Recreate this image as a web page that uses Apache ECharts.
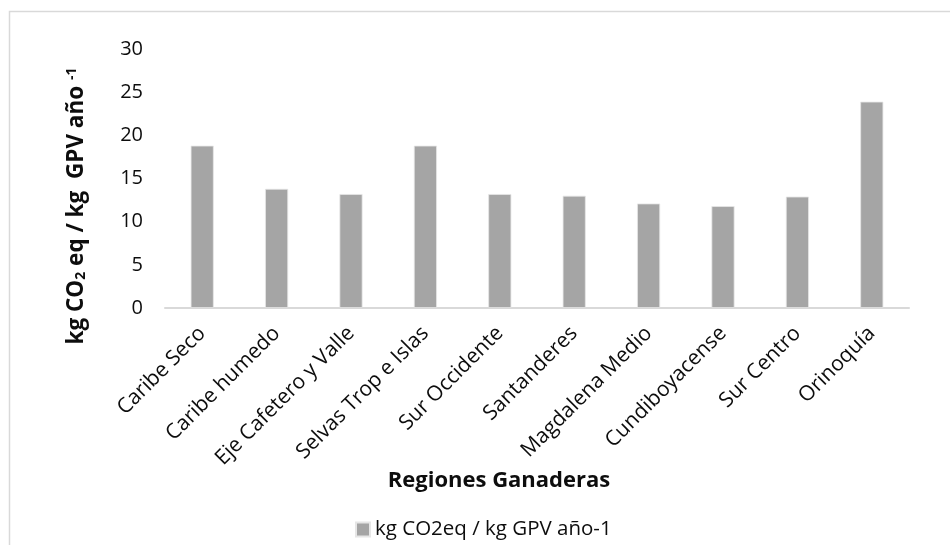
<!DOCTYPE html>
<html>
<head>
<meta charset="utf-8">
<script src="https://cdn.jsdelivr.net/npm/echarts@6/dist/echarts.min.js"></script>
<style>
  html, body { margin: 0; padding: 0; background: #fff; }
  #chart { width: 950px; height: 545px; }
</style>
</head>
<body>
<div id="chart"></div>
<script>
// Emission intensity per livestock region
const regions = [
  'Caribe Seco', 'Caribe humedo', 'Eje Cafetero y Valle', 'Selvas Trop e Islas',
  'Sur Occidente', 'Santanderes', 'Magdalena Medio', 'Cundiboyacense',
  'Sur Centro', 'Orinoquía'
];
const emissions = [18.8, 13.8, 13.2, 18.8, 13.2, 13.0, 12.1, 11.8, 12.9, 23.9];
const seriesName = 'kg CO2eq / kg GPV año-1';
const xTitle = 'Regiones Ganaderas';
const yMin = 0, yMax = 30, yStep = 5;

const FONT = "'Open Sans', 'Noto Sans', sans-serif";
const INK = '#0d0d0d';
const chart = echarts.init(document.getElementById('chart'), null, { renderer: 'canvas' });

chart.setOption({
  animation: false,
  backgroundColor: '#ffffff',
  grid: { left: 165, right: 41, top: 49, bottom: 237, containLabel: false },
  legend: {
    data: [seriesName],
    left: 350,
    top: 514,
    icon: 'rect',
    itemWidth: 14,
    itemHeight: 14,
    itemGap: 10,
    textStyle: { fontFamily: FONT, fontSize: 20.5, color: INK }
  },
  xAxis: {
    type: 'category',
    data: regions,
    axisLine: { show: true, lineStyle: { color: '#d9d9d9', width: 2 } },
    axisTick: { show: false },
    axisLabel: {
      rotate: 45,
      interval: 0,
      margin: 22,
      fontFamily: FONT,
      fontSize: 21,
      color: INK
    }
  },
  yAxis: {
    type: 'value',
    min: yMin,
    max: yMax,
    interval: yStep,
    axisLine: { show: false },
    axisTick: { show: false },
    splitLine: { show: false },
    axisLabel: { margin: 22, fontFamily: FONT, fontSize: 20, color: INK }
  },
  series: [{
    name: seriesName,
    type: 'bar',
    data: emissions,
    barWidth: '31%',
    itemStyle: { color: '#a5a5a5', borderColor: '#e6e6e6', borderWidth: 0.8 }
  }],
  graphic: [
    {
      type: 'rect',
      silent: true,
      shape: { x: 9.5, y: 11.5, width: 960, height: 560 },
      style: { fill: 'none', stroke: '#d9d9d9', lineWidth: 1.5 }
    },
    {
      type: 'text',
      silent: true,
      x: 499,
      y: 481,
      style: {
        text: xTitle,
        fontFamily: FONT,
        fontSize: 22,
        fontWeight: 'bold',
        fill: INK,
        align: 'center',
        verticalAlign: 'middle'
      }
    },
    {
      type: 'text',
      silent: true,
      x: 77,
      y: 206,
      rotation: Math.PI / 2,
      style: {
        text: 'kg CO{sub|2} eq / kg  GPV año {sup|-1}',
        fontFamily: FONT,
        fontSize: 22.5,
        fontWeight: 'bold',
        fill: INK,
        align: 'center',
        verticalAlign: 'middle',
        rich: {
          sub: { fontFamily: FONT, fontSize: 14, fontWeight: 'bold', fill: INK, verticalAlign: 'bottom' },
          sup: { fontFamily: FONT, fontSize: 14, fontWeight: 'bold', fill: INK, verticalAlign: 'top' }
        }
      }
    }
  ]
});
</script>
</body>
</html>
